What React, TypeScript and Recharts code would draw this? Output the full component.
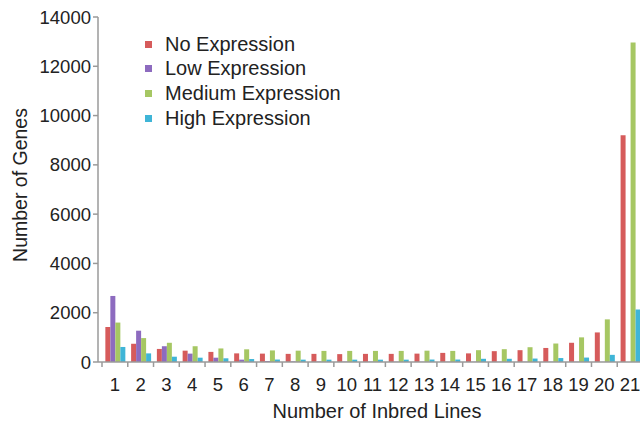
import { BarChart, Bar, XAxis, YAxis, Legend, Label } from 'recharts'

const lines = ['1', '2', '3', '4', '5', '6', '7', '8', '9', '10', '11', '12', '13', '14', '15', '16', '17', '18', '19', '20', '21']
const noExpr = [1420, 740, 530, 460, 410, 350, 340, 330, 330, 320, 330, 330, 340, 370, 350, 440, 480, 570, 780, 1200, 9200]
const lowExpr = [2680, 1270, 640, 340, 175, 95, 40, 25, 20, 15, 15, 10, 10, 10, 10, 10, 10, 10, 10, 5, 0]
const mediumExpr = [1600, 970, 780, 640, 550, 515, 470, 460, 450, 450, 450, 450, 460, 450, 480, 520, 600, 750, 1000, 1730, 12970]
const highExpr = [610, 350, 215, 175, 150, 120, 100, 95, 95, 95, 95, 95, 100, 100, 130, 130, 140, 160, 180, 290, 2130]
const yTicks = [0, 2000, 4000, 6000, 8000, 10000, 12000, 14000]

const seriesNames = ['No Expression', 'Low Expression', 'Medium Expression', 'High Expression']
const colors = ['#d65b5b', '#8d6bbf', '#a6c763', '#3fb5d7']

const data = lines.map((l, i) => ({
  line: l,
  no: noExpr[i],
  low: lowExpr[i],
  medium: mediumExpr[i],
  high: highExpr[i],
}))

const FONT = '"Liberation Sans", Arial, sans-serif'
const TEXT = '#222'
const AXIS = '#9a9a9a'
const BAND = 541 / 21

function XTick(props: any) {
  const { x, y, payload } = props
  return (
    <g>
      <line x1={x - BAND / 2} x2={x - BAND / 2} y1={y - 8} y2={y - 3} stroke={AXIS} strokeWidth={1.5} />
      <text x={x} y={y + 21} textAnchor="middle" fontSize={18.5} fill={TEXT} fontFamily={FONT}>
        {payload.value}
      </text>
    </g>
  )
}

// legend sits inside the plot, top left
function LegendBox() {
  return (
    <div style={{ fontFamily: FONT, fontSize: 20, color: TEXT }}>
      {seriesNames.map((n, i) => (
        <div key={n} style={{ display: 'flex', alignItems: 'center', height: 24.6 }}>
          <span style={{ width: 7, height: 7, background: colors[i], marginLeft: 5, marginRight: 13 }} />
          <span>{n}</span>
        </div>
      ))}
    </div>
  )
}

export default function App() {
  return (
    <div style={{ position: 'absolute', left: 0, top: 0, width: 640, height: 421, background: '#fff' }}>
      <BarChart
        width={640}
        height={421}
        data={data}
        margin={{ top: 17, right: 0, left: 0, bottom: 0 }}
        barCategoryGap="13%"
        barGap={0}
      >
        <XAxis
          dataKey="line"
          padding={{ left: 4, right: -3 }}
          axisLine={{ stroke: AXIS, strokeWidth: 1.5 }}
          tickLine={false}
          tick={<XTick />}
          interval={0}
          height={59}
        >
          <Label
            content={() => (
              <text x={377} y={418} textAnchor="middle" fontSize={20} fill={TEXT} fontFamily={FONT}>
                Number of Inbred Lines
              </text>
            )}
          />
        </XAxis>
        <YAxis
          width={98}
          domain={[0, 14000]}
          ticks={yTicks}
          interval={0}
          axisLine={{ stroke: AXIS, strokeWidth: 1.5 }}
          tickLine={{ stroke: AXIS, strokeWidth: 1.5 }}
          tickSize={5}
          tick={{ fill: TEXT, fontSize: 18.5, fontFamily: FONT }}
        >
          <Label
            content={() => (
              <text
                x={20}
                y={185}
                transform="rotate(-90 20 185)"
                textAnchor="middle"
                dominantBaseline="central"
                fontSize={19.5}
                fill={TEXT}
                fontFamily={FONT}
              >
                Number of Genes
              </text>
            )}
          />
        </YAxis>
        <Legend
          layout="vertical"
          align="center"
          verticalAlign="middle"
          content={<LegendBox />}
          wrapperStyle={{ position: 'absolute', left: 140, top: 32, width: 'auto' }}
        />
        <Bar dataKey="no" name={seriesNames[0]} fill={colors[0]} isAnimationActive={false} />
        <Bar dataKey="low" name={seriesNames[1]} fill={colors[1]} isAnimationActive={false} />
        <Bar dataKey="medium" name={seriesNames[2]} fill={colors[2]} isAnimationActive={false} />
        <Bar dataKey="high" name={seriesNames[3]} fill={colors[3]} isAnimationActive={false} />
      </BarChart>
    </div>
  )
}
